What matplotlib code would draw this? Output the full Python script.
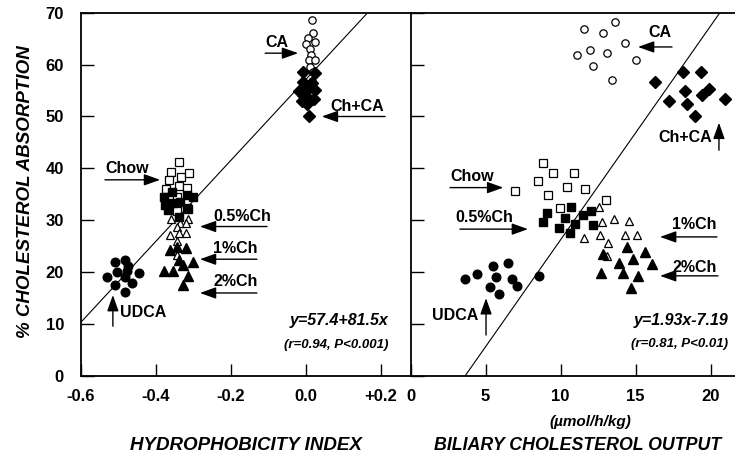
import numpy as np
import matplotlib
matplotlib.use("Agg")
import matplotlib.pyplot as plt

plt.rcParams['font.family'] = ['Liberation Sans', 'DejaVu Sans']
plt.rcParams['font.weight'] = 'bold'

# ---- left panel: hydrophobicity index ----
l_ca_x = [0.016, 0.019, 0.007, 0.025, 0.001, 0.012, 0.014, 0.009, 0.025, 0.012, 0.019, 0.016]
l_ca_y = [68.6, 66.0, 65.1, 64.3, 64.0, 63.1, 61.8, 60.9, 60.8, 59.6, 58.6, 56.9]
l_chca_x = [-0.006, 0.025, -0.006, 0.016, -0.019, 0.003, 0.025, -0.006, -0.010, 0.012, 0.003, 0.022, 0.009]
l_chca_y = [58.6, 58.4, 56.7, 56.4, 55.0, 55.2, 55.1, 54.1, 53.0, 53.2, 52.5, 53.3, 50.0]
l_chow_x = [-0.339, -0.359, -0.333, -0.311, -0.364, -0.339, -0.317, -0.372, -0.342, -0.344]
l_chow_y = [41.3, 39.4, 38.4, 39.2, 37.8, 36.7, 36.3, 36.0, 34.5, 31.8]
l_ch05_x = [-0.379, -0.357, -0.317, -0.301, -0.375, -0.353, -0.335, -0.366, -0.317, -0.337, -0.313]
l_ch05_y = [34.4, 35.5, 34.9, 34.5, 32.9, 33.3, 33.6, 32.0, 32.3, 30.7, 32.1]
l_ch1_x = [-0.360, -0.313, -0.335, -0.342, -0.363, -0.339, -0.319, -0.344, -0.344, -0.320]
l_ch1_y = [30.2, 30.2, 29.4, 28.7, 27.2, 27.5, 27.5, 26.0, 23.3, 29.4]
l_ch2_x = [-0.363, -0.342, -0.319, -0.337, -0.301, -0.328, -0.379, -0.354, -0.313, -0.328]
l_ch2_y = [24.3, 24.9, 24.6, 22.4, 22.0, 21.3, 20.3, 20.3, 19.3, 17.5]
l_udca_x = [-0.508, -0.483, -0.474, -0.502, -0.530, -0.483, -0.444, -0.464, -0.508, -0.483, -0.477]
l_udca_y = [22.0, 22.4, 21.1, 20.1, 19.0, 19.1, 19.8, 17.9, 17.5, 16.2, 20.3]
l_fit = (57.1, 78.0)      # intercept, slope of drawn line

# ---- right panel: biliary cholesterol output ----
r_ca_x = [11.58, 12.85, 13.63, 14.29, 11.07, 11.96, 13.07, 15.03, 12.18, 13.41]
r_ca_y = [66.9, 66.1, 68.2, 64.2, 61.8, 62.9, 62.3, 60.9, 59.7, 57.1]
r_chca_x = [16.29, 18.14, 19.36, 18.29, 19.91, 19.41, 17.25, 18.41, 20.96, 18.96]
r_chca_y = [56.6, 58.5, 58.5, 55.0, 55.3, 54.1, 53.0, 52.4, 53.4, 50.0]
r_chow_x = [8.85, 9.47, 10.91, 8.51, 10.45, 11.63, 6.96, 9.18, 9.96, 13.03]
r_chow_y = [41.1, 39.2, 39.2, 37.6, 36.4, 36.0, 35.7, 34.9, 32.3, 34.0]
r_ch05_x = [10.67, 9.07, 10.29, 8.81, 11.52, 12.01, 10.96, 9.91, 12.14, 10.63]
r_ch05_y = [32.5, 31.5, 30.4, 29.6, 31.0, 31.7, 29.3, 28.5, 29.1, 27.5]
r_ch1_x = [12.58, 12.74, 13.58, 14.58, 11.56, 12.63, 13.18, 14.29, 15.07, 13.11]
r_ch1_y = [32.6, 29.7, 30.2, 29.9, 26.5, 27.2, 25.7, 27.2, 27.2, 23.1]
r_ch2_x = [14.45, 15.63, 12.81, 13.91, 14.81, 16.07, 12.69, 14.14, 15.14, 14.69]
r_ch2_y = [24.8, 23.9, 23.5, 21.8, 22.5, 21.6, 19.8, 19.8, 19.3, 16.9]
r_udca_x = [3.63, 4.41, 5.47, 6.51, 5.69, 6.74, 5.29, 7.07, 5.91, 8.58]
r_udca_y = [18.6, 19.7, 21.1, 21.7, 19.0, 18.6, 17.2, 17.3, 15.8, 19.3]
r_fit = (-14.96, 4.12)

left_ticks = [-0.6, -0.4, -0.2, 0.0, 0.2]
left_ticklabels = ['-0.6', '-0.4', '-0.2', '0.0', '+0.2']
right_ticks = [0, 5, 10, 15, 20]
y_ticks = [0, 10, 20, 30, 40, 50, 60, 70]

fig = plt.figure(figsize=(7.35, 4.55), dpi=100)
ax1 = fig.add_axes([0.1097, 0.1736, 0.4490, 0.7985])
ax2 = fig.add_axes([0.5586, 0.1736, 0.4414, 0.7985])

k = 'black'
def draw(ax, ca, chca, chow, ch05, ch1, ch2, udca, ca_ms):
    ax.plot(*ca, 'o', ms=ca_ms, mfc='white', mec=k, mew=0.9, ls='none', zorder=3)
    ax.plot(*chca, 'D', ms=6.2, mfc=k, mec=k, ls='none', zorder=4)
    ax.plot(*chow, 's', ms=5.5, mfc='white', mec=k, mew=0.9, ls='none', zorder=3)
    ax.plot(*ch05, 's', ms=5.8, mfc=k, mec=k, ls='none', zorder=4)
    ax.plot(*ch1, '^', ms=6.3, mfc='white', mec=k, mew=0.9, ls='none', zorder=3)
    ax.plot(*ch2, '^', ms=6.5, mfc=k, mec=k, ls='none', zorder=4)
    ax.plot(*udca, 'o', ms=6.2, mfc=k, mec=k, ls='none', zorder=4)

draw(ax1, (l_ca_x, l_ca_y), (l_chca_x, l_chca_y), (l_chow_x, l_chow_y),
     (l_ch05_x, l_ch05_y), (l_ch1_x, l_ch1_y), (l_ch2_x, l_ch2_y), (l_udca_x, l_udca_y), 5.3)
draw(ax2, (r_ca_x, r_ca_y), (r_chca_x, r_chca_y), (r_chow_x, r_chow_y),
     (r_ch05_x, r_ch05_y), (r_ch1_x, r_ch1_y), (r_ch2_x, r_ch2_y), (r_udca_x, r_udca_y), 5.3)

# regression lines
xl = np.linspace(-0.6, (70 - l_fit[0]) / l_fit[1], 50)
ax1.plot(xl, l_fit[0] + l_fit[1] * xl, color=k, lw=0.8, zorder=2)
xr = np.linspace(-r_fit[0] / r_fit[1], (70 - r_fit[0]) / r_fit[1], 50)
ax2.plot(xr, r_fit[0] + r_fit[1] * xr, color=k, lw=0.8, zorder=2)

ax1.set_xlim(-0.6, 0.28)
ax2.set_xlim(0, 21.63)
for ax in (ax1, ax2):
    ax.set_ylim(0, 70)
    ax.set_yticks(y_ticks)
    ax.tick_params(direction='in', length=9, width=1, labelsize=12)
    ax.tick_params(axis='y', pad=12)
    ax.tick_params(axis='x', pad=9)
    for s in ax.spines.values():
        s.set_linewidth(1.3)
    ax.spines['right'].set_visible(False)
ax1.set_xticks(left_ticks)
ax1.set_xticklabels(left_ticklabels)
ax2.set_xticks(right_ticks)
ax2.tick_params(axis='y', labelleft=False)

arrow = dict(arrowstyle='-|>,head_length=0.7,head_width=0.25', color=k, lw=1,
             mutation_scale=14, shrinkA=0, shrinkB=0)
fs = 11.5

def label(ax, text, tx, ty, tail, tip):
    ax.text(tx, ty, text, fontsize=fs, ha='left', va='center')
    ax.annotate('', xy=tip, xytext=tail, arrowprops=arrow)

label(ax1, 'CA', -0.108, 64.3, (-0.108, 62.2), (-0.020, 62.2))
label(ax1, 'Ch+CA', 0.065, 52.0, (0.212, 50.0), (0.043, 50.0))
label(ax1, 'Chow', -0.535, 39.9, (-0.535, 37.8), (-0.388, 37.8))
label(ax1, '0.5%Ch', -0.247, 30.8, (-0.103, 28.8), (-0.282, 28.8))
label(ax1, '1%Ch', -0.247, 24.5, (-0.130, 22.5), (-0.282, 22.5))
label(ax1, '2%Ch', -0.247, 18.3, (-0.130, 16.0), (-0.282, 16.0))
label(ax1, 'UDCA', -0.495, 12.2, (-0.514, 9.6), (-0.514, 15.6))
ax1.text(0.220, 10.6, 'y=57.4+81.5x', fontsize=11.5, style='italic', ha='right', va='center')
ax1.text(0.220, 6.0, '(r=0.94, P<0.001)', fontsize=9.5, style='italic', ha='right', va='center')

label(ax2, 'CA', 15.83, 66.1, (17.43, 63.4), (15.16, 63.4))
label(ax2, 'Ch+CA', 16.5, 46.0, (20.56, 43.5), (20.56, 48.8))
label(ax2, 'Chow', 2.64, 38.4, (2.63, 36.3), (6.18, 36.3))
label(ax2, '0.5%Ch', 2.96, 30.6, (3.29, 28.3), (7.83, 28.3))
label(ax2, '1%Ch', 17.43, 29.1, (20.43, 26.8), (16.63, 26.8))
label(ax2, '2%Ch', 17.49, 21.0, (20.49, 19.3), (16.63, 19.3))
label(ax2, 'UDCA', 1.41, 11.6, (5.03, 7.9), (5.03, 15.0))
ax2.text(21.16, 10.6, 'y=1.93x-7.19', fontsize=11.5, style='italic', ha='right', va='center')
ax2.text(21.16, 6.2, '(r=0.81, P<0.01)', fontsize=9.5, style='italic', ha='right', va='center')

fig.text(590 / 735, 1 - 422 / 455, '(\u00b5mol/h/kg)', fontsize=11, style='italic', ha='center', va='center')
fig.text(246 / 735, 1 - 445 / 455, 'HYDROPHOBICITY INDEX', fontsize=13.5, style='italic', ha='center', va='center')
fig.text(578 / 735, 1 - 445 / 455, 'BILIARY CHOLESTEROL OUTPUT', fontsize=12.8, style='italic', ha='center', va='center')
fig.text(26 / 735, 1 - 192 / 455, '% CHOLESTEROL ABSORPTION', fontsize=13.5, style='italic',
         rotation=90, ha='center', va='center')

fig.savefig('out.png', dpi=100)
